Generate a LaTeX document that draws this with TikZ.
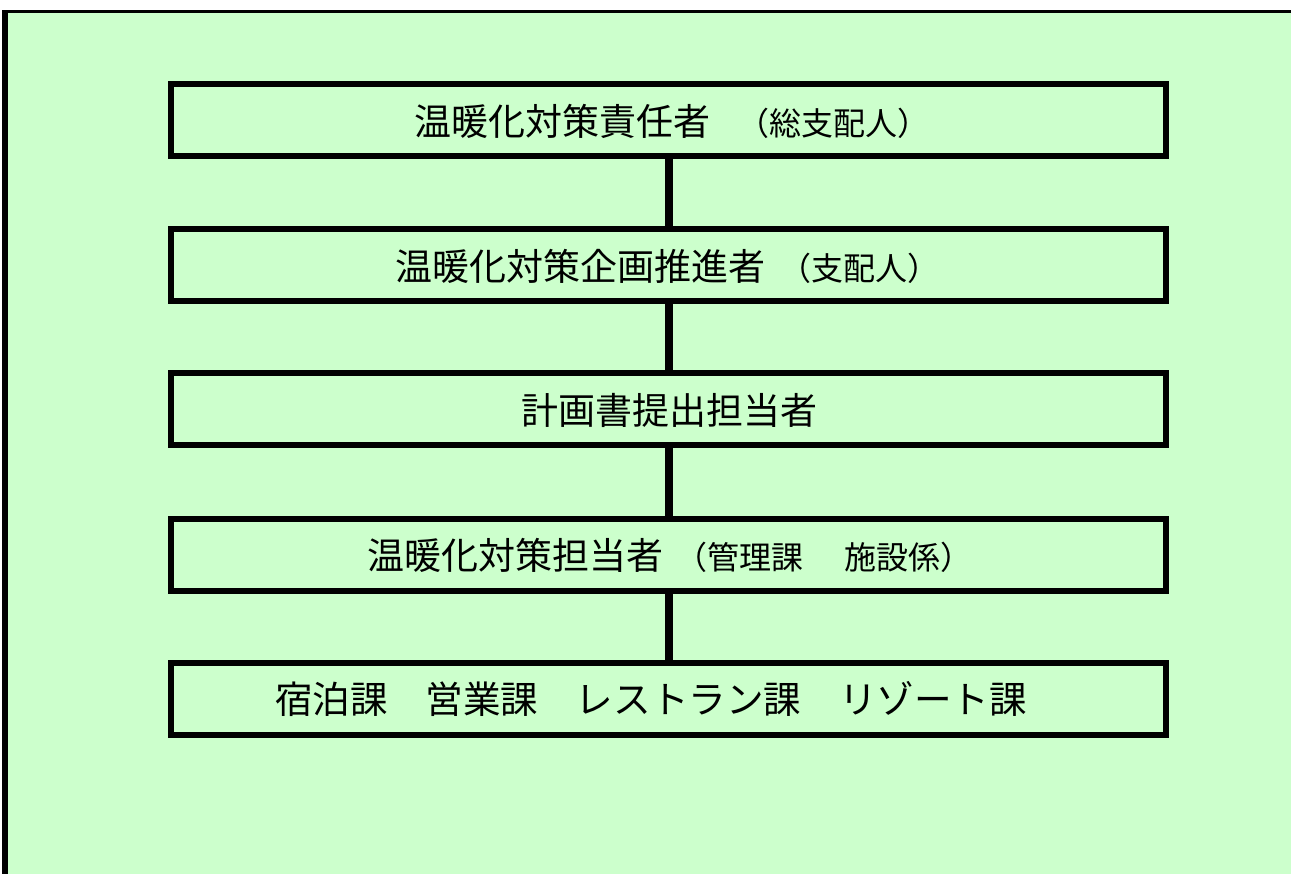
\documentclass[tikz,border=0pt]{standalone}
\usepackage{fontspec}
\newfontfamily\jp{Noto Sans CJK JP}
\definecolor{bggreen}{HTML}{CCFFCC}
\tikzset{
  orgbox/.style={draw=black, line width=6pt, minimum width=995pt, minimum height=72pt, inner sep=0pt},
  link/.style={draw=black, line width=8pt},
  txt/.style={inner sep=0pt, font=\jp\fontsize{37}{40}\selectfont},
}
\newcommand{\sm}[1]{{\fontsize{32}{34}\selectfont #1}}
\begin{document}
\begin{tikzpicture}[x=1pt,y=-1pt]
\useasboundingbox (0,0) rectangle (1291,874);
\fill[white] (0,0) rectangle (1291,874);
\fill[bggreen] (2,10) rectangle (1291,874);
\fill[black] (2,10) rectangle (7.5,874);
\fill[black] (2,10) rectangle (1291,13.3);
\node[orgbox] (b1) at (668.5,120) {};
\node[orgbox] (b2) at (668.5,265) {};
\node[orgbox] (b3) at (668.5,409.5) {};
\node[orgbox] (b4) at (668.5,554.5) {};
\node[orgbox] (b5) at (668.5,698.5) {};
\draw[link] (b1.south) -- (b2.north);
\draw[link] (b2.south) -- (b3.north);
\draw[link] (b3.south) -- (b4.north);
\draw[link] (b4.south) -- (b5.north);
\node[txt] (t1) at (671.5,121) {温暖化対策責任者\hspace{27pt}\sm{（総支配人）}};
\node[txt] (t2) at (667,266) {温暖化対策企画推進者\hspace{14pt}\sm{（支配人）}};
\node[txt] (t3) at (669.5,410) {計画書提出担当者};
\node[txt] (t4) at (670,555) {温暖化対策担当者\hspace{12pt}\sm{（管理課　\hspace{9pt}施設係）}};
\node[txt, font=\jp\fontsize{37.6}{40}\selectfont] (t5) at (651,699) {宿泊課　営業課　レストラン課　リゾート課};
\end{tikzpicture}
\end{document}
